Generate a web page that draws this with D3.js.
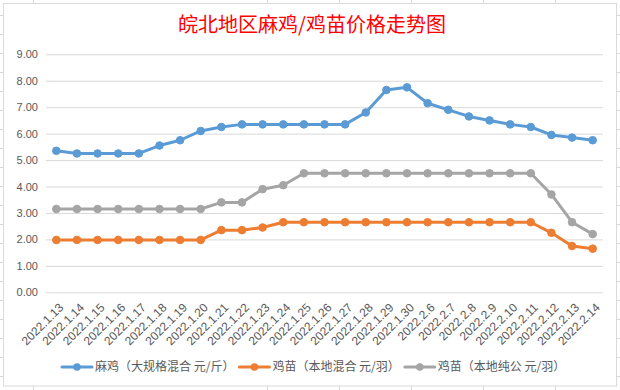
<!DOCTYPE html>
<html><head><meta charset="utf-8">
<script src="https://cdn.jsdelivr.net/npm/d3@7"></script>
<style>
html,body{margin:0;padding:0;background:#fff;}
svg{display:block;}
</style></head>
<body>
<svg id="c" width="620" height="390"></svg>
<script>
const title = "皖北地区麻鸡/鸡苗价格走势图";
const categories = ["2022.1.13","2022.1.14","2022.1.15","2022.1.16","2022.1.17","2022.1.18","2022.1.19","2022.1.20","2022.1.21","2022.1.22","2022.1.23","2022.1.24","2022.1.25","2022.1.26","2022.1.27","2022.1.28","2022.1.29","2022.1.30","2022.2.6","2022.2.7","2022.2.8","2022.2.9","2022.2.10","2022.2.11","2022.2.12","2022.2.13","2022.2.14"];
const seriesNames = ["麻鸡（大规格混合 元/斤）","鸡苗（本地混合 元/羽）","鸡苗（本地纯公 元/羽）"];
const maji = [5.35,5.25,5.25,5.25,5.25,5.55,5.75,6.1,6.25,6.35,6.35,6.35,6.35,6.35,6.35,6.8,7.65,7.75,7.15,6.9,6.65,6.5,6.35,6.25,5.95,5.85,5.75];
const jimiaoMix = [1.98,1.98,1.98,1.98,1.98,1.98,1.98,1.98,2.35,2.35,2.45,2.65,2.65,2.65,2.65,2.65,2.65,2.65,2.65,2.65,2.65,2.65,2.65,2.65,2.25,1.75,1.65];
const jimiaoMale = [3.15,3.15,3.15,3.15,3.15,3.15,3.15,3.15,3.4,3.4,3.9,4.05,4.5,4.5,4.5,4.5,4.5,4.5,4.5,4.5,4.5,4.5,4.5,4.5,3.7,2.65,2.2];
const yTicks = [0,1,2,3,4,5,6,7,8,9];
const colors = ["#5B9BD5","#ED7D31","#A5A5A5"];
const seriesData = [maji, jimiaoMix, jimiaoMale];

const svg = d3.select("#c");
const numFont = "'Liberation Sans', Arial, sans-serif";
const cjkFont = "'Noto Sans CJK SC', 'Noto Sans', sans-serif";

// spreadsheet background grid (outside chart frame)
const sheet = svg.append("g").attr("stroke","#d6d6de").attr("stroke-width",1);
d3.range(15, 390, 19).forEach(y=>{
  sheet.append("line").attr("x1",0).attr("x2",3).attr("y1",y+0.5).attr("y2",y+0.5);
  sheet.append("line").attr("x1",617).attr("x2",620).attr("y1",y+0.5).attr("y2",y+0.5);
});
[33,267,339,411,483,555].forEach(x=>{
  sheet.append("line").attr("x1",x+0.5).attr("x2",x+0.5).attr("y1",0).attr("y2",3);
  sheet.append("line").attr("x1",x+0.5).attr("x2",x+0.5).attr("y1",386).attr("y2",390);
});
// chart frame
svg.append("rect").attr("x",3.5).attr("y",3.5).attr("width",613).attr("height",382.5)
  .attr("fill","#fff").attr("stroke","#d9d9d9");

const x = d3.scaleBand().domain(categories).range([46,603]);
const y = d3.scaleLinear().domain([0,9]).range([292.3,54.3]);

// title
svg.append("text").attr("x",312).attr("y",32).attr("text-anchor","middle")
  .attr("font-family",cjkFont).attr("font-size",20).attr("fill","#FF0000").text(title);

// y grid + labels
const yAxis = d3.axisLeft(y).tickValues(yTicks).tickFormat(d3.format(".2f")).tickSize(-(603-46)).tickPadding(8);
const gy = svg.append("g").attr("transform","translate(46,0)").call(yAxis);
gy.select(".domain").remove();
gy.selectAll(".tick line").attr("stroke","#d9d9d9");
gy.selectAll(".tick text").attr("font-family",numFont).attr("font-size",11).attr("fill","#595959");

// x labels
const xAxis = d3.axisBottom(x).tickSize(0);
const gx = svg.append("g").attr("transform","translate(0,292.3)").call(xAxis);
gx.select(".domain").remove();
gx.selectAll(".tick text")
  .attr("font-family",numFont).attr("font-size",12).attr("fill","#595959")
  .attr("text-anchor","end").attr("dy","0.35em")
  .attr("transform","translate(5,13) rotate(-45)").attr("y",0).attr("x",0);

// series
const line = d3.line().x((d,i)=>x(categories[i])+x.bandwidth()/2).y(d=>y(d));
seriesData.forEach((vals,si)=>{
  const g = svg.append("g");
  g.append("path").datum(vals).attr("d",line).attr("fill","none")
    .attr("stroke",colors[si]).attr("stroke-width",3).attr("stroke-linejoin","round").attr("stroke-linecap","round");
  g.selectAll("circle").data(vals).join("circle")
    .attr("cx",(d,i)=>x(categories[i])+x.bandwidth()/2).attr("cy",d=>y(d)).attr("r",3.8)
    .attr("fill",colors[si]).attr("stroke",colors[si]).attr("stroke-width",1);
});

// legend
const leg = svg.append("g").attr("transform","translate(0,367)");
let cx = 62;
seriesNames.forEach((n,i)=>{
  const it = leg.append("g").attr("transform",`translate(${cx},0)`);
  it.append("line").attr("x1",0).attr("x2",30).attr("y1",0).attr("y2",0)
    .attr("stroke",colors[i]).attr("stroke-width",3).attr("stroke-linecap","round");
  it.append("circle").attr("cx",15).attr("cy",0).attr("r",3.8).attr("fill",colors[i]);
  const t = it.append("text").attr("x",33).attr("y",0).attr("dy","0.36em")
    .attr("font-family",cjkFont).attr("font-size",12).attr("fill","#595959").text(n);
  cx += 33 + t.node().getComputedTextLength() + 5;
});
</script>
</body></html>
